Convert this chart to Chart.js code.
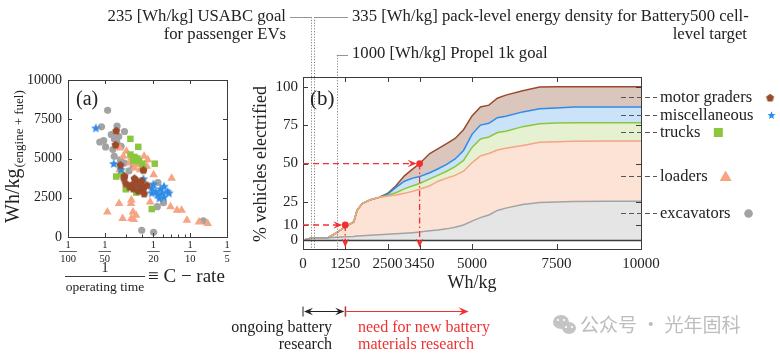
<!DOCTYPE html>
<html><head><meta charset="utf-8">
<script src="https://cdn.jsdelivr.net/npm/chart.js@4.4.0/dist/chart.umd.min.js"></script>
<style>
html,body{margin:0;padding:0;background:#fff;}
#wrap{position:relative;width:780px;height:356px;overflow:hidden;background:#fff;}
canvas{position:absolute;left:0;top:0;}
</style></head><body>
<div id="wrap"><canvas id="ca" width="780" height="356"></canvas><canvas id="cb" width="780" height="356"></canvas></div>
<script>
// ---------- Panel (a): scatter, C-rate (1/operating time) vs Wh/kg ----------
const excavatorsRate = [0.0211,0.0188,0.0252,0.0290,0.0196,0.0203,0.0226,0.0240,0.0251,0.0233,0.0239,0.0268,0.0290,0.0316,0.0342,0.0401,0.0502,0.0538,0.0544,0.0604,0.128,0.0414,0.0272,0.0182,0.0260];
const excavatorsWh   = [8070,7020,7070,6720,6140,5740,6530,6250,6040,5570,5140,4920,4710,4220,4500,430,300,1930,3470,2180,1030,3210,5780,6050,6400];
const loadersRate = [0.0265,0.0301,0.0284,0.0330,0.0365,0.0420,0.0450,0.0442,0.0502,0.0705,0.0321,0.0350,0.0389,0.0265,0.0470,0.0690,0.0780,0.0850,0.0940,0.118,0.139,0.0210,0.0262,0.0328,0.0330,0.0340,0.0360,0.0280,0.0330,0.0345,0.0375];
const loadersWh   = [5670,5460,5140,5030,4920,5140,4920,4500,3960,3750,4710,4390,4280,4280,2230,1930,1710,1710,1070,960,856,1600,2140,2140,2360,1600,1390,1180,1180,1110,4600];
const trucksRate = [0.0324,0.0376,0.0324,0.0350,0.0342,0.0382,0.0406,0.0513,0.0248,0.0272,0.0297,0.0362,0.0485,0.0414,0.0370];
const trucksWh   = [6250,5740,5250,5100,4860,4820,4670,4670,3850,4030,3040,2830,1780,4280,5000];
const miscRate = [0.0169,0.0237,0.0272,0.0414,0.0485,0.0520,0.0570,0.0610,0.0590,0.0540,0.0610,0.0650,0.0670,0.0485,0.0500,0.0560];
const miscWh   = [6920,4650,4280,3680,3100,2890,3040,3210,2780,2680,2530,2890,2780,2780,3350,2450];
const gradersRate = [0.0248,0.0245,0.0290,0.0287,0.0350,0.0362,0.0401,0.0414,0.0320,0.0342,0.0389,0.0376,0.0414,0.0442,0.0420,0.0297,0.0330,0.0350,0.0268];
const gradersWh   = [6790,5890,3900,3750,3750,3600,3600,4280,3210,3100,3250,2950,3100,3320,2780,3430,3320,3380,4600];
const rateTickDenominators = [100,50,20,10,5];
const whTicksA = [0,2500,5000,7500,10000];

// ---------- Panel (b): cumulative % vehicles electrified vs Wh/kg ----------
const energyGrid = [0,250,500,750,1000,1250,1500,1600,1750,2000,2250,2500,2750,3000,3250,3450,3750,4000,4250,4500,4750,5000,5250,5500,5750,6000,6500,7000,7500,8000,9000,10000];
const excavatorsCum = [0,1.5,1.7,1.8,2,2.3,2.6,2.8,3,3.3,3.7,4,4.3,4.6,5,5.4,6.3,6.8,7.5,8.5,10,12.5,14.8,16.5,19.5,21,23.3,24.6,25,25.3,25.4,25.4];
const loadersCum    = [0,1.5,1.7,1.9,5,9,12,19.5,24,26.5,28,28.8,29.6,30.6,32,33.3,35.5,38.5,40.5,42.3,45,50.5,55,56.5,58.8,60,61.8,63.8,64.2,64.5,64.6,64.6];
const trucksCum     = [0,1.5,1.7,1.9,5,9,12,19.5,24,26.5,28,29.2,31,33.5,35.5,37,40,42.5,45,48,52,60.5,66,67.3,70.2,71,74,75.9,76.3,76.6,76.6,76.6];
const miscCum       = [0,1.5,1.7,1.9,5,9,12,19.5,24,26.5,28,30,34.5,38.5,40.5,41.5,44,46.6,49.5,53,58.5,69,75,76.2,79.8,80.8,83.6,85.7,86.2,86.8,86.8,86.8];
const gradersCum    = [0,1.5,1.7,1.9,5,9,12,19.5,24,26.5,28,30.5,35.5,42,46.5,50,56.5,59.7,63,66.3,72,81,86.8,88,92.5,94.5,97.3,99.8,99.9,100,100,100];
const energyTicks = [0,1250,2500,3450,5000,7500,10000];
const pctTicks = [0,10,25,50,75,100];
const goalEnergies = [235,335,1000];
const milestoneEnergy = [1250,3450];
const milestonePct = [10,50];
const categoryNames = ['motor graders','miscellaneous','trucks','loaders','excavators'];
const categoryLabelLevels = [93.4,81.7,70.6,42,17.5];
const newResearchEnd = 4900;

const FONT = '"Liberation Serif", "Times New Roman", serif';
Chart.defaults.font.family = FONT;
Chart.defaults.color = '#222';

const C = {
  grey:'#a3a3a3', salmon:'#f6a482', green:'#8cc63f', blue:'#2f8be6', brown:'#9a4b2c',
  greyF:'#e5e5e5', salmonF:'#fde2d6', greenF:'#e5f1d1', blueF:'#cbe3f8', brownF:'#dbc6bd',
  red:'#f23030'
};

function starImage(color, r){
  const s = Math.ceil(r*2+2), c = document.createElement('canvas'); c.width=s; c.height=s;
  const g = c.getContext('2d'); g.fillStyle=color; g.beginPath();
  for(let i=0;i<10;i++){const a=-Math.PI/2+i*Math.PI/5, rr=i%2?r*0.45:r; g.lineTo(s/2+rr*Math.cos(a), s/2+rr*Math.sin(a));}
  g.closePath(); g.fill(); return c;
}
function pentagonImage(color, r){
  const s = Math.ceil(r*2+2), c = document.createElement('canvas'); c.width=s; c.height=s;
  const g = c.getContext('2d'); g.fillStyle=color; g.beginPath();
  for(let i=0;i<5;i++){const a=-Math.PI/2+i*2*Math.PI/5; g.lineTo(s/2+r*Math.cos(a), s/2+r*Math.sin(a)+0.5);}
  g.closePath(); g.fill(); return c;
}
const starImg = starImage(C.blue, 5);
const pentImg = pentagonImage(C.brown, 4.2);
const starSmall = starImage(C.blue, 4.2);
const pentSmall = pentagonImage(C.brown, 4.2);

function pts(xs, ys){ return xs.map((v,i)=>({x:v, y:ys[i]})); }
function seg(ctx,x1,y1,x2,y2){ctx.beginPath();ctx.moveTo(x1,y1);ctx.lineTo(x2,y2);ctx.stroke();}
function arrowHead(ctx,x,y,ang,size,color){
  ctx.save();ctx.translate(x,y);ctx.rotate(ang);ctx.fillStyle=color;ctx.beginPath();
  ctx.moveTo(0,0);ctx.lineTo(-size,-size*0.42);ctx.lineTo(-size*0.62,0);ctx.lineTo(-size,size*0.42);ctx.closePath();ctx.fill();ctx.restore();
}

// ---------------- Chart A ----------------
const decorA = {
  id:'decorA',
  afterDraw(chart){
    const {ctx, chartArea:a, scales:{x,y}} = chart;
    ctx.save();
    ctx.strokeStyle='#3c3c3c'; ctx.lineWidth=1;
    ctx.strokeRect(a.left+0.5, a.top+0.5, a.right-a.left, a.bottom-a.top);
    whTicksA.forEach(v=>{const py=Math.round(y.getPixelForValue(v))+0.5; seg(ctx,a.left,py,a.left+4,py); seg(ctx,a.right-4,py,a.right,py);});
    rateTickDenominators.forEach(d=>{const px=Math.round(x.getPixelForValue(1/d))+0.5; seg(ctx,px,a.bottom,px,a.bottom-4); seg(ctx,px,a.top,px,a.top+4);});
    [0.03,0.04,0.06,0.07,0.08,0.09].forEach(v=>{const px=Math.round(x.getPixelForValue(v))+0.5; seg(ctx,px,a.bottom,px,a.bottom-2.5);});
    // fraction tick labels
    ctx.fillStyle='#222'; ctx.textAlign='center'; ctx.textBaseline='middle';
    rateTickDenominators.forEach(d=>{
      const px=x.getPixelForValue(1/d);
      ctx.font='10.5px '+FONT; ctx.fillText('1',px,245);
      const w=ctx.measureText(String(d)).width+2;
      ctx.lineWidth=0.8; seg(ctx,px-w/2,251.5,px+w/2,251.5);
      ctx.fillText(String(d),px,259);
    });
    // x title
    ctx.font='14px '+FONT; ctx.fillText('1',105,268);
    ctx.lineWidth=1; seg(ctx,65,276.5,145,276.5);
    ctx.font='13.5px '+FONT; ctx.fillText('operating time',105,287);
    ctx.font='19px '+FONT; ctx.textAlign='left'; ctx.fillText('\u2261 C \u2212 rate',148,277);
    // y title
    ctx.save(); ctx.translate(19,223); ctx.rotate(-Math.PI/2);
    ctx.textAlign='left'; ctx.textBaseline='alphabetic';
    ctx.font='20px '+FONT; ctx.fillText('Wh/kg',0,0);
    const w=ctx.measureText('Wh/kg').width;
    ctx.font='13px '+FONT; ctx.fillText('(engine + fuel)',w+1,4);
    ctx.restore();
    // panel label
    ctx.font='20px '+FONT; ctx.textAlign='left'; ctx.textBaseline='middle'; ctx.fillText('(a)',76,100);
    ctx.restore();
  }
};

new Chart(document.getElementById('ca'), {
  type:'scatter',
  data:{datasets:[
    {label:'excavators', data:pts(excavatorsRate,excavatorsWh), pointStyle:'circle', pointRadius:3.6, backgroundColor:C.grey, borderWidth:0},
    {label:'loaders', data:pts(loadersRate,loadersWh), pointStyle:'triangle', pointRadius:5, backgroundColor:C.salmon, borderWidth:0},
    {label:'trucks', data:pts(trucksRate,trucksWh), pointStyle:'rect', pointRadius:4.6, backgroundColor:C.green, borderWidth:0},
    {label:'miscellaneous', data:pts(miscRate,miscWh), pointStyle:starImg, pointRadius:5, backgroundColor:C.blue, borderWidth:0},
    {label:'motor graders', data:pts(gradersRate,gradersWh), pointStyle:pentImg, pointRadius:4, backgroundColor:C.brown, borderWidth:0}
  ].reverse()},
  options:{
    responsive:false, animation:false, events:[],
    layout:{padding:{left:8, top:80, right:553, bottom:119}},
    plugins:{legend:{display:false}, tooltip:{enabled:false}},
    scales:{
      x:{type:'logarithmic', min:0.01, max:0.2, grid:{display:false, drawTicks:false}, border:{display:false}, ticks:{display:false},
         afterFit:s=>{s.height=0;}},
      y:{type:'linear', min:0, max:10000, grid:{display:false, drawTicks:false}, border:{display:false},
         afterBuildTicks:s=>{s.ticks=whTicksA.map(v=>({value:v}));},
         ticks:{padding:6, font:{size:14, family:FONT}, color:'#222', callback:v=>String(v)},
         afterFit:s=>{s.width=60;}}
    }
  },
  plugins:[decorA]
});

// ---------------- Chart B ----------------
const decorB = {
  id:'decorB',
  afterDraw(chart){
    const {ctx, chartArea:a, scales:{x,y}} = chart;
    const X=v=>x.getPixelForValue(v), Y=v=>y.getPixelForValue(v);
    ctx.save();
    // frame + zero line
    ctx.strokeStyle='#3c3c3c'; ctx.lineWidth=1;
    ctx.strokeRect(a.left+0.5, a.top+0.5, a.right-a.left, a.bottom-a.top);
    ctx.lineWidth=1.3; seg(ctx,a.left,Math.round(Y(0))+0.5,a.right,Math.round(Y(0))+0.5);
    ctx.lineWidth=1;
    pctTicks.forEach(v=>{const py=Math.round(Y(v))+0.5; seg(ctx,a.left,py,a.left+5,py); seg(ctx,a.right-5,py,a.right,py);});
    energyTicks.forEach(v=>{const px=Math.round(X(v))+0.5; seg(ctx,px,a.bottom,px,a.bottom-5); seg(ctx,px,a.top,px,a.top+5);});
    // goal lines
    ctx.strokeStyle='#777'; ctx.lineWidth=0.9; ctx.setLineDash([1.2,1.6]);
    const tops=[17,17,55];
    goalEnergies.forEach((g,i)=>{const px=Math.round(X(g))+0.5; seg(ctx,px,tops[i],px,a.bottom);});
    ctx.setLineDash([]); ctx.strokeStyle='#888'; ctx.lineWidth=0.9;
    seg(ctx,290,17.5,X(goalEnergies[0]),17.5);
    seg(ctx,X(goalEnergies[1]),17.5,348,17.5);
    seg(ctx,X(goalEnergies[2]),55.5,348,55.5);
    // top annotation text
    ctx.fillStyle='#222'; ctx.textBaseline='middle'; ctx.font='16.7px '+FONT;
    ctx.textAlign='right'; ctx.fillText('235 [Wh/kg] USABC goal',286,17); ctx.fillText('for passenger EVs',286,35);
    ctx.textAlign='left'; ctx.fillText('335 [Wh/kg] pack-level energy density for Battery500 cell-',352,17);
    ctx.textAlign='right'; ctx.fillText('level target',747,35);
    ctx.textAlign='left'; ctx.fillText('1000 [Wh/kg] Propel 1k goal',352,54);
    // red milestones
    milestoneEnergy.forEach((e,i)=>{
      const px=X(e), py=Y(milestonePct[i]);
      ctx.strokeStyle=C.red; ctx.lineWidth=1.3; ctx.setLineDash([6,4]);
      seg(ctx,a.left,py,px-6,py);
      ctx.setLineDash([6,3,1.5,3]);
      seg(ctx,px,py,px,Y(0)+2);
      ctx.setLineDash([]);
      arrowHead(ctx,px-3,py,0,9,C.red);
      arrowHead(ctx,px,Y(0)+7,Math.PI/2,9,C.red);
      ctx.fillStyle=C.red; ctx.beginPath(); ctx.arc(px,py,3.4,0,Math.PI*2); ctx.fill();
    });
    // panel label
    ctx.fillStyle='#222'; ctx.font='21px '+FONT; ctx.textAlign='left'; ctx.textBaseline='middle';
    ctx.fillText('(b)',310,99);
    // category labels at right
    const markers=['pent','star','rect','tri','circ'];
    const mcol=[C.brown,C.blue,C.green,C.salmon,C.grey];
    categoryNames.forEach((n,i)=>{
      const py=Math.round(Y(categoryLabelLevels[i]))+0.5;
      ctx.strokeStyle='#555'; ctx.lineWidth=1; ctx.setLineDash([5,3]);
      seg(ctx,621,py,657,py); ctx.setLineDash([]);
      ctx.fillStyle='#222'; ctx.font='16.5px '+FONT; ctx.textAlign='left'; ctx.textBaseline='middle';
      ctx.fillText(n,660,py);
      const mx=660+ctx.measureText(n).width+18;
      ctx.fillStyle=mcol[i];
      if(markers[i]==='pent') ctx.drawImage(pentSmall,mx-pentSmall.width/2,py-pentSmall.height/2);
      else if(markers[i]==='star') ctx.drawImage(starSmall,mx-starSmall.width/2,py-starSmall.height/2);
      else if(markers[i]==='rect') ctx.fillRect(mx-4.5,py-4.5,9,9);
      else if(markers[i]==='tri'){ctx.beginPath();ctx.moveTo(mx,py-6);ctx.lineTo(mx+6,py+4.5);ctx.lineTo(mx-6,py+4.5);ctx.closePath();ctx.fill();}
      else {ctx.beginPath();ctx.arc(mx,py,4.3,0,Math.PI*2);ctx.fill();}
    });
    // axis titles
    ctx.fillStyle='#222'; ctx.font='18px '+FONT; ctx.textAlign='center'; ctx.textBaseline='middle';
    ctx.fillText('Wh/kg',(a.left+a.right)/2,283);
    ctx.save(); ctx.translate(266,164); ctx.rotate(-Math.PI/2); ctx.textBaseline='alphabetic';
    ctx.fillText('% vehicles electrified',0,0); ctx.restore();
    // bottom research arrows
    const x0=X(0), x1=X(milestoneEnergy[0]), x2=X(newResearchEnd), ay=311.5;
    ctx.strokeStyle='#222'; ctx.lineWidth=1;
    seg(ctx,x0,ay-5,x0,ay+5); seg(ctx,x1,ay-5,x1,ay+5); seg(ctx,x0+2,ay,x1-2,ay);
    arrowHead(ctx,x0+1,ay,Math.PI,9,'#222'); arrowHead(ctx,x1-1,ay,0,9,'#222');
    ctx.strokeStyle=C.red; seg(ctx,x1+0.5,ay-5,x1+0.5,ay+5); seg(ctx,x1+1,ay,x2-3,ay);
    arrowHead(ctx,x2,ay,0,10,C.red);
    ctx.font='16px '+FONT; ctx.textBaseline='middle';
    ctx.fillStyle='#222'; ctx.textAlign='right';
    ctx.fillText('ongoing battery',332,328); ctx.fillText('research',332,345);
    ctx.fillStyle=C.red; ctx.textAlign='left';
    ctx.fillText('need for new battery',358,328); ctx.fillText('materials research',358,345);
    // watermark
    ctx.fillStyle='#c4c4c4';
    ctx.beginPath(); ctx.ellipse(561,322,8,7,0,0,Math.PI*2); ctx.fill();
    ctx.beginPath(); ctx.ellipse(569,328,7,6,0,0,Math.PI*2); ctx.fill();
    ctx.fillStyle='#fff'; [[558,320],[564,320],[566,327],[572,327]].forEach(p=>{ctx.beginPath();ctx.arc(p[0],p[1],1.1,0,Math.PI*2);ctx.fill();});
    ctx.fillStyle='#bdbdbd'; ctx.font='19px "Noto Sans CJK SC", sans-serif'; ctx.textAlign='left';
    ctx.fillText('\u516C\u4F17\u53F7 \u00B7 \u5149\u5E74\u56FA\u79D1',580,325);
    ctx.restore();
  }
};

function series(label, cum, line, fillColor, fill){
  return {label, data:pts(energyGrid,cum), borderColor:line, backgroundColor:fillColor, borderWidth:1.5,
    fill, pointRadius:0, tension:0};
}
new Chart(document.getElementById('cb'), {
  type:'line',
  data:{datasets:[
    series('excavators', excavatorsCum, C.grey, C.greyF, 'origin'),
    series('loaders', loadersCum, C.salmon, C.salmonF, '-1'),
    series('trucks', trucksCum, C.green, C.greenF, '-1'),
    series('miscellaneous', miscCum, C.blue, C.blueF, '-1'),
    series('motor graders', gradersCum, C.brown, C.brownF, '-1')
  ]},
  options:{
    responsive:false, animation:false, events:[],
    layout:{padding:{left:258, top:77, right:139, bottom:77}},
    plugins:{legend:{display:false}, tooltip:{enabled:false}, filler:{drawTime:'beforeDatasetsDraw'}},
    scales:{
      x:{type:'linear', min:0, max:10000, grid:{display:false, drawTicks:false}, border:{display:false},
         afterBuildTicks:s=>{s.ticks=energyTicks.map(v=>({value:v}));},
         ticks:{autoSkip:false, maxRotation:0, padding:6, font:{size:15, family:FONT}, color:'#222', callback:v=>String(v)},
         afterFit:s=>{s.height=30;}},
      y:{type:'linear', min:-5.6, max:106.3, grid:{display:false, drawTicks:false}, border:{display:false},
         afterBuildTicks:s=>{s.ticks=pctTicks.map(v=>({value:v}));},
         ticks:{padding:5, font:{size:15, family:FONT}, color:'#222', callback:v=>String(v)},
         afterFit:s=>{s.width=45;}}
    }
  },
  plugins:[decorB]
});
</script>
</body></html>
